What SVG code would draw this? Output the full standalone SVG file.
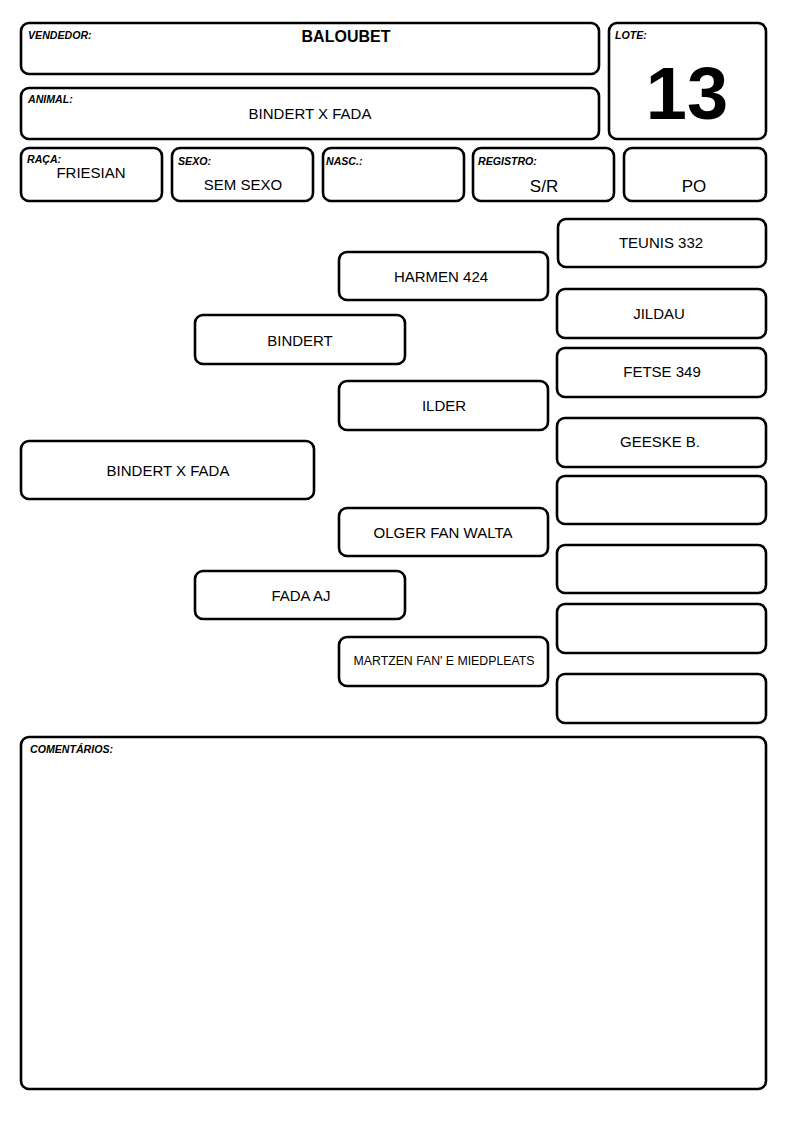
<svg xmlns="http://www.w3.org/2000/svg" width="794" height="1123" viewBox="0 0 794 1123">
<style>
.b{fill:#fff;stroke:#000;stroke-width:2.6}
.lb{font-family:"Liberation Sans",Arial,sans-serif;font-size:10.6px;font-weight:bold;font-style:italic;fill:#000}
.t{font-family:"Liberation Sans",Arial,sans-serif;font-size:15px;fill:#000;text-anchor:middle}
</style>
<rect width="794" height="1123" fill="#fff"/>
<g id="vendedor"><rect class="b" x="21" y="23" width="578" height="51" rx="8"/><text class="lb" x="28" y="39">VENDEDOR:</text><text class="t" x="346" y="42" style="font-size:16px;font-weight:bold">BALOUBET</text></g>
<g id="animal"><rect class="b" x="21" y="88" width="578" height="51" rx="8"/><text class="lb" x="28" y="103">ANIMAL:</text><text class="t" x="310" y="119">BINDERT X FADA</text></g>
<g id="lote"><rect class="b" x="609" y="23" width="157" height="116" rx="8"/><text class="lb" x="615" y="39">LOTE:</text><text class="t" x="687" y="119" style="font-size:74px;font-weight:bold">13</text></g>
<g id="raca"><rect class="b" x="21" y="148" width="141" height="53" rx="8"/><text class="lb" x="27" y="163">RAÇA:</text><text class="t" x="91" y="178">FRIESIAN</text></g>
<g id="sexo"><rect class="b" x="172" y="148" width="141" height="53" rx="8"/><text class="lb" x="178" y="165">SEXO:</text><text class="t" x="243" y="190">SEM SEXO</text></g>
<g id="nasc"><rect class="b" x="323" y="148" width="141" height="53" rx="8"/><text class="lb" x="326" y="165">NASC.:</text></g>
<g id="registro"><rect class="b" x="473" y="148" width="141" height="53" rx="8"/><text class="lb" x="478" y="165">REGISTRO:</text><text class="t" x="544" y="192" style="font-size:17px">S/R</text></g>
<g id="po"><rect class="b" x="624" y="148" width="142" height="53" rx="8"/><text class="t" x="694" y="192" style="font-size:17px">PO</text></g>
<g id="connectors"></g>
<g id="n-animal"><rect class="b" x="21" y="441" width="293" height="58" rx="8"/><text class="t" x="168" y="476">BINDERT X FADA</text></g>
<g id="n-bindert"><rect class="b" x="195" y="315" width="210" height="49" rx="8"/><text class="t" x="300" y="346">BINDERT</text></g>
<g id="n-fada"><rect class="b" x="195" y="571" width="210" height="48" rx="8"/><text class="t" x="301" y="601">FADA AJ</text></g>
<g id="n-harmen"><rect class="b" x="339" y="252" width="209" height="48" rx="8"/><text class="t" x="441" y="282">HARMEN 424</text></g>
<g id="n-ilder"><rect class="b" x="339" y="381" width="209" height="49" rx="8"/><text class="t" x="444" y="411">ILDER</text></g>
<g id="n-olger"><rect class="b" x="339" y="508" width="209" height="48" rx="8"/><text class="t" x="443" y="538">OLGER FAN WALTA</text></g>
<g id="n-martzen"><rect class="b" x="339" y="637" width="209" height="49" rx="8"/><text class="t" x="444" y="665" style="font-size:12.3px">MARTZEN FAN' E MIEDPLEATS</text></g>
<g id="n-teunis"><rect class="b" x="558" y="219" width="208" height="48" rx="8"/><text class="t" x="661" y="248">TEUNIS 332</text></g>
<g id="n-jildau"><rect class="b" x="557" y="289" width="209" height="49" rx="8"/><text class="t" x="659" y="319">JILDAU</text></g>
<g id="n-fetse"><rect class="b" x="557" y="348" width="209" height="49" rx="8"/><text class="t" x="662" y="377">FETSE 349</text></g>
<g id="n-geeske"><rect class="b" x="557" y="418" width="209" height="49" rx="8"/><text class="t" x="660" y="447">GEESKE B.</text></g>
<g id="n-blank1"><rect class="b" x="557" y="476" width="209" height="48" rx="8"/></g>
<g id="n-blank2"><rect class="b" x="557" y="545" width="209" height="48" rx="8"/></g>
<g id="n-blank3"><rect class="b" x="557" y="604" width="209" height="49" rx="8"/></g>
<g id="n-blank4"><rect class="b" x="557" y="674" width="209" height="49" rx="8"/></g>
<g id="comentarios"><rect class="b" x="21" y="737" width="745" height="352" rx="8"/><text class="lb" x="30" y="753">COMENTÁRIOS:</text></g>
</svg>
